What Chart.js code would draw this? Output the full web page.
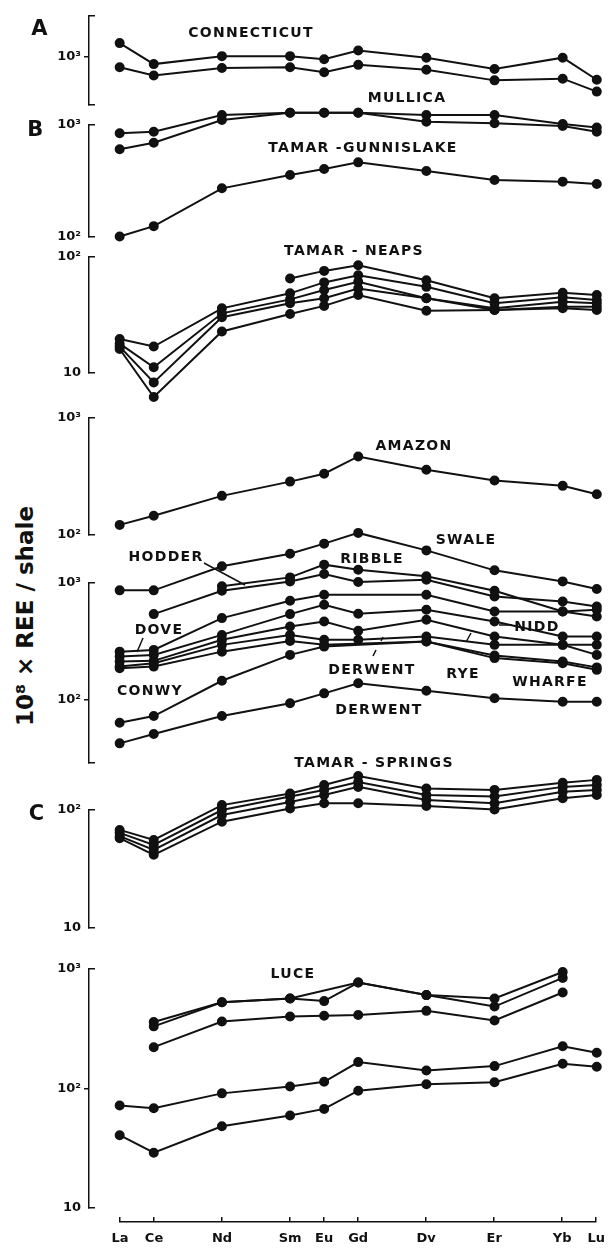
<!DOCTYPE html>
<html>
<head>
<meta charset="utf-8">
<script src="https://cdn.jsdelivr.net/npm/chart.js@4.4.1/dist/chart.umd.min.js"></script>
<style>
  body { margin: 0; background: #fff; }
  #wrap { position: relative; width: 614px; height: 1249px; background: #fff; overflow: hidden; }
  #wrap canvas { position: absolute; left: 0; top: 0; }
  .lbl { position: absolute; font-family: "DejaVu Sans", sans-serif; font-weight: bold; color: #111;
         white-space: nowrap; transform: translate(-50%, -50%); letter-spacing: 1.3px; }
  #ytitle { position: absolute; left: 25px; top: 616px; font-family: "DejaVu Sans", sans-serif;
            font-size: 23px; font-weight: bold; color: #111; white-space: nowrap;
            transform: translate(-50%, -50%) rotate(-90deg); }
  svg { position: absolute; left: 0; top: 0; }
</style>
</head>
<body>
<div id="wrap">
  <div id="ytitle">10⁸ × REE / shale</div>
  <svg width="614" height="1249" id="ptr"></svg>
</div>
<script>
// REE on the x axis (spaced by atomic number)
const elementNames = ["La", "Ce", "Nd", "Sm", "Eu", "Gd", "Dy", "Er", "Yb", "Lu"];
const atomicNumbers = [57, 58, 60, 62, 63, 64, 66, 68, 70, 71];

// A - Connecticut
const connecticut1 = [1450, 943, 1110, 1110, 1040, 1244, 1076, 853, 1076, 685];
const connecticut2 = [883, 747, 870, 883, 799, 929, 841, 676, 700, 537];

// B - Mullica, Tamar-Gunnislake
const mullica1 = [843, 871, 1228, 1288, 1288, 1288, 1228, 1228, 1021, 950];
const mullica2 = [607, 695, 1108, 1288, 1288, 1288, 1070, 1035, 980, 870];
const gunnislake = [101, 125, 272, 358, 405, 464, 388, 323, 312, 297];

// Tamar-Neaps
const neaps1 = [null, null, null, 65.3, 75.9, 84.9, 63.1, 44.1, 49.2, 47];
const neaps2 = [19.6, 16.9, 36.1, 48.6, 60.4, 69.7, 55.3, 39.9, 44.9, 42.6];
const neaps3 = [17.9, 11.2, 32.7, 43.1, 51.9, 61.1, 44.1, 36.1, 41.1, 39.9];
const neaps4 = [16.9, 8.3, 30.3, 39.9, 44.1, 53.6, 44.1, 34.9, 37.3, 37.3];
const neaps5 = [16.1, 6.2, 22.8, 32.3, 37.9, 47, 34.4, 34.9, 36.1, 34.9];

// Amazon
const amazon = [122, 146, 216, 286, 334, 469, 361, 292, 263, 223];

// British rivers
const swale = [865, 865, 1390, 1780, 2170, 2680, 1900, 1283, 1032, 889];
const ribble = [null, null, 936, 1117, 1435, 1300, 1140, 859, 571, 518];
const hodder = [null, 542, 859, 1032, 1194, 1020, 1067, 768, 695, 630];
const nidd = [259, 268, 501, 705, 794, null, 794, 571, 571, 590];
const dove = [235, 243, 360, 542, 652, 546, 590, 469, 349, 349];
const derwentUpper = [213, 216, 327, 425, 469, 390, 485, 349, 296, 296];
const rye = [193, 206, 296, 360, 327, 327, 349, 296, 296, 243];
const wharfe = [187, 193, 259, 320, 296, null, 316, 240, 213, 190];
const conwy = [63.9, 72.9, 146, 243, 286, null, 316, 228, 206, 181];
const derwentLower = [42.6, 51.2, 72.9, 93.7, 114, 139, 120, 103.5, 96.7, 96.7];

// C - Tamar-Springs
const springs1 = [67.8, 55.7, 110, 138, 163, 194, 152, 148, 170, 180];
const springs2 = [64, 50.6, 100, 130, 148, 173, 134, 130, 157, 163];
const springs3 = [60, 45.9, 90.7, 117, 134, 157, 121.5, 114, 143, 148];
const springs4 = [57.7, 41.7, 79.6, 103, 114, 114, 108, 101, 126, 134];

// Luce
const luce1 = [null, 349, 513, 553, null, 754, 590, 553, 926, null];
const luce2 = [null, 321, 513, 553, 525, 754, 590, 472, 825, null];
const luce3 = [null, 214, 353, 389, 394, 401, 434, 360, 621, null];
const luce4 = [68.7, 65.2, 87, 99.6, 109, 160, 136, 148, 218, 192];
const luce5 = [38.5, 27.4, 45.8, 56.6, 64.3, 91.6, 104, 108, 155, 146];

const decadeText = { 10: "10", 100: "10²", 1000: "10³" };

const W = 614, H = 1249;
const INK = "#111";
const AXIS_X = 89;     // bracket line
const RIGHT_PAD = 7;
const wrap = document.getElementById("wrap");

function newCanvas() {
  const canvas = document.createElement("canvas");
  canvas.width = W;
  canvas.height = H;
  wrap.appendChild(canvas);
  return canvas.getContext("2d");
}

function toPoints(values) {
  return values.map((v, i) => ({ x: atomicNumbers[i], y: v }));
}

const baseOptions = () => ({
  responsive: false,
  animation: false,
  events: [],
  plugins: { legend: { display: false }, tooltip: { enabled: false } }
});

// one panel: a bracket (axis only) chart and a data chart whose log range
// is widened so marks beyond the bracket still show
function makePanel(top, bottom, min, max, decades, seriesList) {
  const isEnd = v => Math.abs(v - min) / min < 1e-6 || Math.abs(v - max) / max < 1e-6;

  // bracket axis
  new Chart(newCanvas(), {
    type: "line",
    data: { datasets: [] },
    options: Object.assign(baseOptions(), {
      layout: { padding: { top: top, bottom: H - bottom, left: 0, right: RIGHT_PAD } },
      scales: {
        x: { type: "linear", min: 56.1, max: 71.3, display: false },
        y: {
          type: "logarithmic", position: "left", min: min, max: max, weight: 2,
          afterBuildTicks: s => { s.ticks = decades.map(v => ({ value: v })); },
          afterFit: s => { s.width = AXIS_X; },
          border: { display: false },
          grid: {
            drawOnChartArea: false, tickLength: 5, lineWidth: 1.5,
            color: ctx => (ctx.tick && isEnd(ctx.tick.value)) ? "rgba(0,0,0,0)" : INK
          },
          ticks: {
            callback: v => decadeText[v] || "",
            color: INK, padding: 3,
            font: { family: "DejaVu Sans", size: 13, weight: "bold" }
          }
        },
        yc: {
          type: "logarithmic", position: "left", min: min, max: max, weight: 1,
          afterBuildTicks: s => { s.ticks = [{ value: min }, { value: max }]; },
          afterFit: s => { s.width = 0; },
          border: { display: true, color: INK, width: 1.5 },
          grid: { drawOnChartArea: false, tickLength: -6, lineWidth: 1.5, color: INK },
          ticks: { display: false }
        }
      }
    })
  });

  // data, same pixel mapping, wider range
  const lo = Math.log10(min), hi = Math.log10(max);
  const perPx = (hi - lo) / (bottom - top);
  const extTop = Math.min(90, top);
  const extBottom = Math.min(90, H - bottom - 2);
  new Chart(newCanvas(), {
    type: "line",
    data: {
      datasets: seriesList.map(s => ({
        data: toPoints(s),
        borderColor: INK,
        backgroundColor: INK,
        pointBackgroundColor: INK,
        pointBorderColor: INK,
        borderWidth: 2,
        pointRadius: 4,
        spanGaps: true,
        tension: 0
      }))
    },
    options: Object.assign(baseOptions(), {
      layout: { padding: { top: top - extTop, bottom: H - bottom - extBottom, left: AXIS_X, right: RIGHT_PAD } },
      scales: {
        x: { type: "linear", min: 56.1, max: 71.3, display: false },
        y: {
          type: "logarithmic", display: false,
          min: Math.pow(10, lo - extBottom * perPx),
          max: Math.pow(10, hi + extTop * perPx)
        }
      }
    })
  });
}

// A
makePanel(16, 105, Math.pow(10, 3 - 48 / 116), Math.pow(10, 3 + 41 / 116), [1000],
  [connecticut1, connecticut2]);
// B
makePanel(125, 237, 100, 1000, [100, 1000], [mullica1, mullica2, gunnislake]);
// Tamar-Neaps
makePanel(257, 373, 10, 100, [10, 100], [neaps1, neaps2, neaps3, neaps4, neaps5]);
// Amazon
makePanel(418, 535, 100, 1000, [100, 1000], [amazon]);
// rivers
makePanel(583, 763, Math.pow(10, 3 - 180 / 117), 1000, [100, 1000],
  [swale, ribble, hodder, nidd, dove, derwentUpper, rye, wharfe, conwy, derwentLower]);
// C
makePanel(810, 928, 10, 100, [10, 100], [springs1, springs2, springs3, springs4]);
// Luce
makePanel(969, 1208, 10, 1000, [10, 100, 1000], [luce1, luce2, luce3, luce4, luce5]);

// shared element axis at the bottom
new Chart(newCanvas(), {
  type: "line",
  data: { datasets: [] },
  options: Object.assign(baseOptions(), {
    layout: { padding: { top: 1217, bottom: 7, left: 120, right: 17 } },
    scales: {
      y: { display: false, min: 0, max: 1 },
      x: {
        type: "linear", min: 57, max: 71,
        afterBuildTicks: s => { s.ticks = atomicNumbers.map(v => ({ value: v })); },
        afterFit: s => { s.height = 20; },
        border: { display: true, color: INK, width: 1.5 },
        grid: { drawOnChartArea: true, drawTicks: false, color: INK, lineWidth: 1.5 },
        ticks: {
          callback: v => elementNames[atomicNumbers.indexOf(v)],
          color: INK, padding: 9, maxRotation: 0, autoSkip: false,
          font: { family: "DejaVu Sans", size: 13, weight: "bold" }
        }
      }
    }
  })
});

// text labels on the figure
const labels = [
  ["A", 40, 28, 21], ["B", 36, 129, 21], ["C", 37, 813, 21],
  ["CONNECTICUT", 251, 32, 14], ["MULLICA", 407, 97, 14], ["TAMAR -GUNNISLAKE", 363, 147, 14],
  ["TAMAR - NEAPS", 354, 250, 14], ["AMAZON", 414, 445, 14], ["SWALE", 466, 539, 14],
  ["HODDER", 166, 556, 14], ["RIBBLE", 372, 558, 14], ["DOVE", 159, 629, 14],
  ["NIDD", 537, 626, 14], ["CONWY", 150, 690, 14], ["DERWENT", 372, 669, 14],
  ["RYE", 463, 673, 14], ["WHARFE", 550, 681, 14], ["DERWENT", 379, 709, 14],
  ["TAMAR - SPRINGS", 374, 762, 14], ["LUCE", 293, 973, 14]
];
labels.forEach(([t, x, y, s]) => {
  const d = document.createElement("div");
  d.className = "lbl";
  d.textContent = t;
  d.style.left = x + "px";
  d.style.top = y + "px";
  d.style.fontSize = s + "px";
  wrap.appendChild(d);
});

// little pointer strokes from labels to their curves
const pointers = [
  [204, 563, 245, 585], [143, 638, 137, 652], [373, 656, 376, 650], [381, 641, 383, 637],
  [466, 642, 471, 633], [499, 625, 512, 625]
];
const svg = document.getElementById("ptr");
wrap.appendChild(svg);
svg.innerHTML = pointers.map(([x1, y1, x2, y2]) =>
  `<line x1="${x1}" y1="${y1}" x2="${x2}" y2="${y2}" stroke="${INK}" stroke-width="1.5"/>`).join("");
</script>
</body>
</html>
